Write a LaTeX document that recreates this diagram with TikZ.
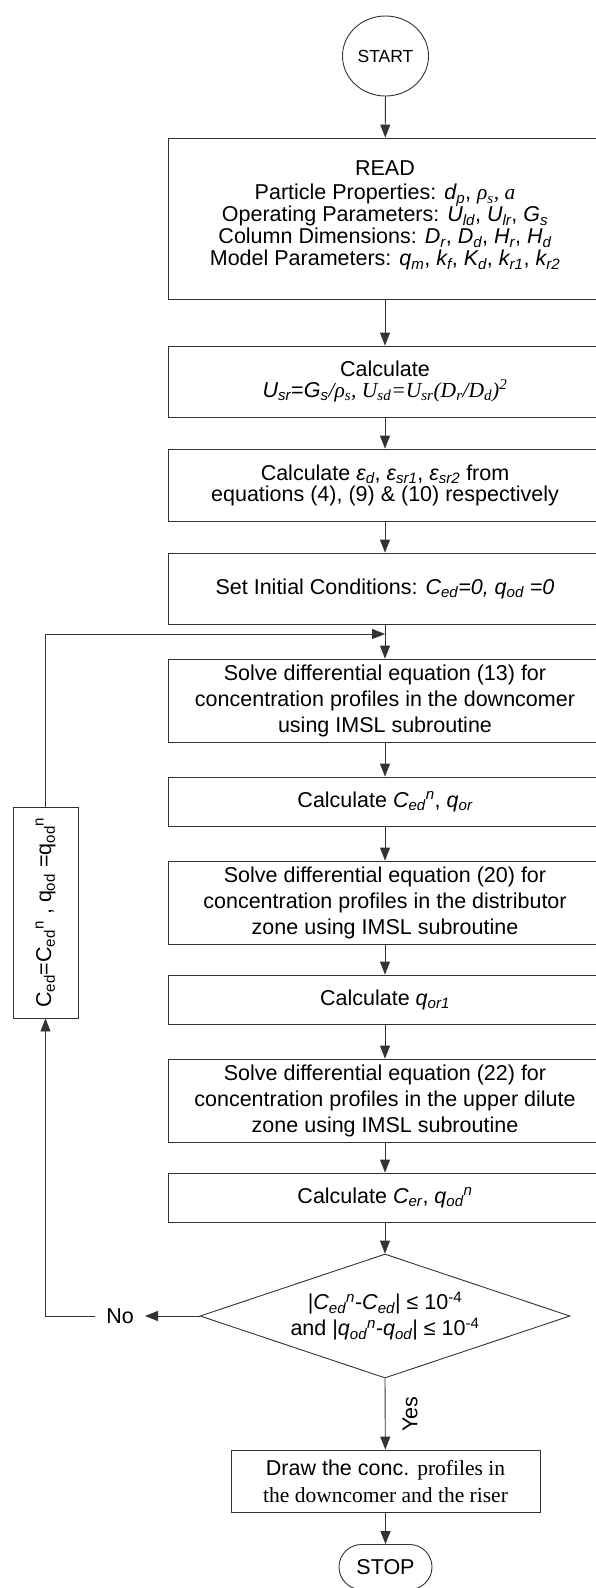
\documentclass[tikz,border=0pt]{standalone}
\usepackage{fontspec}
\setmainfont{Liberation Sans}
\newfontfamily\tms{Liberation Serif}
\usetikzlibrary{arrows.meta,shapes.geometric,shapes.misc}

% italic variable with subscript, and with subscript plus superscript
\newcommand\vsub[2]{\textit{#1\textsubscript{#2}}}
\newcommand\vsubsup[3]{\textit{#1\textsubscript{#2}\textsuperscript{#3}}}

\tikzset{
  stroke/.style={draw=black!80, line width=0.9pt},
  box/.style={stroke, rectangle, minimum width=434pt, align=center, inner sep=0pt},
  arr/.style={stroke, -{Triangle[length=13pt,width=10pt]}},
  txt/.style={font=\fontsize{21.5}{26}\selectfont},
}

\begin{document}
\begin{tikzpicture}[x=1pt,y=-1pt,txt]
\useasboundingbox (0,0) rectangle (595,1588);

% main column of steps
\node[stroke, ellipse, minimum width=86pt, minimum height=80pt, inner sep=0pt,
      font=\fontsize{17.5}{20}\selectfont] (start) at (385.5,56) {START};

\node[box, minimum height=161pt, font=\fontsize{21.5}{22}\selectfont] (read) at (385,218.5)
  {READ\\[2pt]
   Particle Properties: \vsub{d}{p}, {\tms\itshape ρ\textsubscript{s}, a}\\
   Operating Parameters: \vsub{U}{ld}, \vsub{U}{lr}, \vsub{G}{s}\\
   Column Dimensions: \vsub{D}{r}, \vsub{D}{d}, \vsub{H}{r}, \vsub{H}{d}\\
   Model Parameters: \vsub{q}{m}, \vsub{k}{f}, \vsub{K}{d}, \vsub{k}{r1}, \vsub{k}{r2}\\[-12pt]\mbox{}};

\node[box, minimum height=71pt, font=\fontsize{21.5}{21}\selectfont] (calc1) at (385,381.5)
  {Calculate\\
   \vsub{U}{sr}=\vsub{G}{s}{\tms\itshape /ρ\textsubscript{s}, U\textsubscript{sd}=U\textsubscript{sr}(D\textsubscript{r}/D\textsubscript{d})\textsuperscript{2}}};

\node[box, minimum height=72pt, font=\fontsize{21.5}{21}\selectfont] (calceps) at (385,485)
  {Calculate \vsub{ε}{d}, \vsub{ε}{sr1}, \vsub{ε}{sr2} from\\
   equations (4), (9) \& (10) respectively};

\node[box, minimum height=71pt] (init) at (385,588.5)
  {Set Initial Conditions: \vsub{C}{ed}\textit{=0, }\vsub{q}{od}\textit{ =0}};

\node[box, minimum height=83pt] (solve13) at (385,700.5)
  {Solve differential equation (13) for\\
   concentration profiles in the downcomer\\
   using IMSL subroutine};

\node[box, minimum height=49pt] (calcced) at (385,801.5)
  {Calculate \vsubsup{C}{ed}{n}, \vsub{q}{or}};

\node[box, minimum height=83pt] (solve20) at (385,902.5)
  {Solve differential equation (20) for\\
   concentration profiles in the distributor\\
   zone using IMSL subroutine};

\node[box, minimum height=49pt] (calcq) at (385,999.5)
  {Calculate \vsub{q}{or1}};

\node[box, minimum height=83pt] (solve22) at (385,1100.5)
  {Solve differential equation (22) for\\
   concentration profiles in the upper dilute\\
   zone using IMSL subroutine};

\node[box, minimum height=49pt] (calcer) at (385,1197.5)
  {Calculate \vsub{C}{er}, \vsubsup{q}{od}{n}};

\node[stroke, diamond, aspect=2.98, minimum width=370pt, minimum height=124pt,
      inner sep=0pt, align=center] (test) at (385,1316)
  {|\vsubsup{C}{ed}{n}-\vsub{C}{ed}| ≤ 10\textsuperscript{-4}\\
   and |\vsubsup{q}{od}{n}-\vsub{q}{od}| ≤ 10\textsuperscript{-4}};

\node[box, minimum width=309pt, minimum height=62pt, font=\fontsize{21.5}{27}\selectfont]
  (final) at (385.5,1481)
  {Draw the conc. {\tms profiles in}\\
   {\tms the downcomer and the riser}};

\node[stroke, rounded rectangle, minimum width=93pt, minimum height=45pt, inner sep=0pt]
  (stop) at (385.5,1567) {STOP};

% update step of the iteration loop (text runs upwards)
\node[stroke, rotate=90, minimum width=211pt, minimum height=65pt, inner sep=0pt]
  (upd) at (45.5,912.5)
  {C\textsubscript{ed}=C\textsubscript{ed}\textsuperscript{n} , q\textsubscript{od} =q\textsubscript{od}\textsuperscript{n}};

\node[inner xsep=11pt, inner ysep=2pt, anchor=east] (no) at (145,1316) {No};
\coordinate (join) at (385,634);

% connectors
\draw[arr] (start) -- (read);
\draw[arr] (read) -- (calc1);
\draw[arr] (calc1) -- (calceps);
\draw[arr] (calceps) -- (init);
\draw[arr] (init) -- (solve13);
\draw[arr] (solve13) -- (calcced);
\draw[arr] (calcced) -- (solve20);
\draw[arr] (solve20) -- (calcq);
\draw[arr] (calcq) -- (solve22);
\draw[arr] (solve22) -- (calcer);
\draw[arr] (calcer) -- (test);
\draw[arr] (test.south) -- node[pos=0.5, xshift=17pt, rotate=90, anchor=north, inner sep=0pt] {Yes} (final);
\draw[arr] (final) -- (stop);
\draw[arr] (test.west) -- (no.east);
% rotated node: its east anchor is the top side, its west anchor the bottom side
\draw[arr] (no.west) -| (upd.west);
\draw[arr] (upd.east) |- (join);
\end{tikzpicture}
\end{document}
